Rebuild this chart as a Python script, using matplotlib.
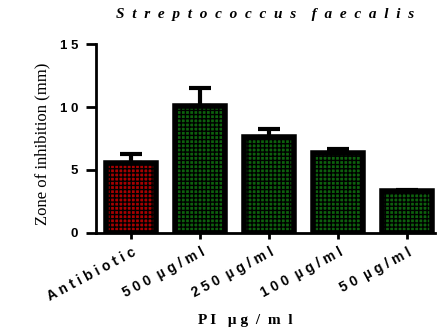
import matplotlib.pyplot as plt

plt.rcParams['hatch.linewidth'] = 1.0

labels = ['Antibiotic', '500 µg/ml', '250 µg/ml', '100 µg/ml', '50 µg/ml']
means = [5.55, 10.1, 7.6, 6.35, 3.3]
errors = [0.7, 1.4, 0.65, 0.3, 0.1]
colors = ['#a80000', '#0d600d', '#0d600d', '#0d600d', '#0d600d']


def spaced(s, gap=' '):
    return gap.join(s)


fig = plt.figure(figsize=(4.37, 3.29), dpi=100)
ax = fig.add_axes([0.22, 0.292, 0.775, 0.574])

x = range(len(labels))
ax.bar(x, means, width=0.72, color=colors, edgecolor='black', linewidth=4,
       hatch='++++', zorder=2)
ax.errorbar(x, means, yerr=[[0] * len(errors), errors], fmt='none', ecolor='black',
            elinewidth=3, capsize=8, capthick=3, zorder=1)

ax.set_xlim(-0.51, 4.4)
ax.set_ylim(0, 15)
ax.set_yticks([0, 5, 10, 15])
ax.set_yticklabels(['0', '5', spaced('10'), spaced('15')],
                   fontdict={'family': 'Liberation Sans', 'weight': 'bold', 'size': 9.5})
ax.set_xticks(list(x))
ax.set_xticklabels([spaced(l).replace('   ', '  ') for l in labels], rotation=28,
                   ha='right', rotation_mode='anchor',
                   fontdict={'family': 'Liberation Sans', 'weight': 'bold', 'size': 10})

for s in ['top', 'right']:
    ax.spines[s].set_visible(False)
for s in ['left', 'bottom']:
    ax.spines[s].set_linewidth(2)
ax.tick_params(axis='y', width=2, length=7, pad=6)
ax.tick_params(axis='x', width=2, length=4, pad=5)

ax.set_ylabel('Zone of inhibition (mm)', family='Liberation Serif', fontsize=12)
ax.yaxis.set_label_coords(-0.135, 0.47)
ax.set_xlabel('P I   µ g  /  m  l', family='Liberation Serif', weight='bold', fontsize=11)
ax.xaxis.set_label_coords(0.44, -0.43)
ax.set_title(spaced('Streptococcus', '  ') + '    ' + spaced('faecalis', '  '),
             family='Liberation Serif', style='italic', weight='bold', fontsize=11, pad=19)

plt.savefig('out.png')
plt.close()
